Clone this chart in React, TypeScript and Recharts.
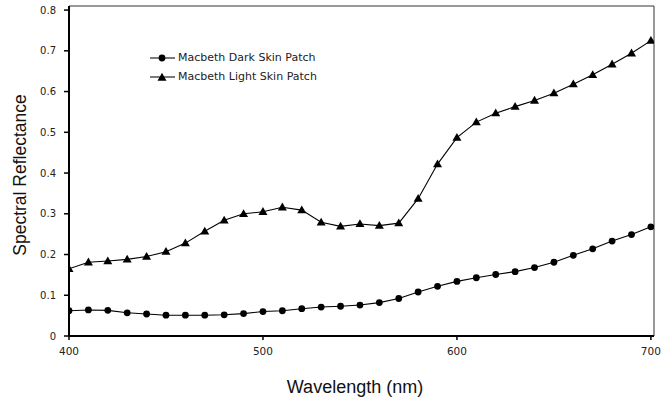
import React from 'react';
import {
  LineChart,
  Line,
  XAxis,
  YAxis,
  ReferenceLine,
  Legend,
} from 'recharts';

// Wavelengths (nm), 400..700 in 10 nm steps
const wavelengths = [
  400, 410, 420, 430, 440, 450, 460, 470, 480, 490, 500, 510, 520, 530, 540, 550,
  560, 570, 580, 590, 600, 610, 620, 630, 640, 650, 660, 670, 680, 690, 700,
];

// Macbeth dark skin patch reflectance
const darkSkin = [
  0.062, 0.064, 0.063, 0.057, 0.054, 0.051, 0.051, 0.051, 0.052, 0.055, 0.06, 0.062,
  0.067, 0.071, 0.073, 0.076, 0.082, 0.092, 0.108, 0.122, 0.134, 0.143, 0.151, 0.158,
  0.168, 0.181, 0.198, 0.214, 0.233, 0.249, 0.268,
];

// Macbeth light skin patch reflectance
const lightSkin = [
  0.165, 0.181, 0.184, 0.188, 0.195, 0.207, 0.228, 0.257, 0.284, 0.3, 0.305, 0.316,
  0.309, 0.279, 0.269, 0.275, 0.271, 0.277, 0.337, 0.422, 0.487, 0.525, 0.547, 0.563,
  0.578, 0.596, 0.618, 0.641, 0.667, 0.694, 0.725,
];

const xTicks = [400, 500, 600, 700];
const yTicks = [0, 0.1, 0.2, 0.3, 0.4, 0.5, 0.6, 0.7, 0.8];

const X_MAX = 701.6;
const Y_MAX = 0.81;

const data = wavelengths.map((w, i) => ({
  wavelength: w,
  dark: darkSkin[i],
  light: lightSkin[i],
}));

const TICK_FONT = "'DejaVu Sans', Verdana, sans-serif";
const TITLE_FONT = "'Liberation Sans', Arial, sans-serif";

const triPath = (cx: number, cy: number, s: number) =>
  `M${cx},${cy - s * 0.62} L${cx + s * 0.6},${cy + s * 0.42} L${cx - s * 0.6},${cy + s * 0.42} Z`;

const CircleDot = (props: any) => {
  const { cx, cy, index } = props;
  if (cx == null || cy == null) return <g key={`c-${index}`} />;
  return <circle key={`c-${index}`} cx={cx} cy={cy} r={3.4} fill="#000" stroke="none" />;
};

const TriangleDot = (props: any) => {
  const { cx, cy, index } = props;
  if (cx == null || cy == null) return <g key={`t-${index}`} />;
  return <path key={`t-${index}`} d={triPath(cx, cy, 7.5)} fill="#000" stroke="none" />;
};

const legendItems = [
  { label: 'Macbeth Dark Skin Patch', shape: 'circle' },
  { label: 'Macbeth Light Skin Patch', shape: 'triangle' },
];

function LegendContent() {
  return (
    <div style={{ fontFamily: TICK_FONT, fontSize: 11, color: '#222', lineHeight: '19px' }}>
      {legendItems.map((item) => (
        <div key={item.label} style={{ display: 'flex', alignItems: 'center', height: 19 }}>
          <svg width={28} height={12} style={{ marginRight: 2 }}>
            <line x1={2} y1={6} x2={27} y2={6} stroke="#222" strokeWidth={1.2} />
            {item.shape === 'circle' ? (
              <circle cx={14} cy={6} r={3.4} fill="#000" />
            ) : (
              <path d={triPath(14, 6.5, 7.5)} fill="#000" />
            )}
          </svg>
          <span>{item.label}</span>
        </div>
      ))}
    </div>
  );
}

export default function App() {
  return (
    <div style={{ position: 'absolute', left: 0, top: 0, width: 665, height: 400, background: '#fff' }}>
      <LineChart
        width={665}
        height={400}
        data={data}
        margin={{ top: 6, right: 11, left: 0, bottom: 0 }}
      >
        <XAxis
          dataKey="wavelength"
          type="number"
          domain={[400, X_MAX]}
          ticks={xTicks}
          allowDataOverflow
          height={64}
          tickSize={4}
          tickMargin={8}
          axisLine={{ stroke: '#000', strokeWidth: 2 }}
          tickLine={{ stroke: '#000', strokeWidth: 1.5 }}
          tick={{ fontSize: 10.5, fill: '#222', fontFamily: TICK_FONT }}
          label={{
            content: () => (
              <text
                x={355}
                y={393}
                textAnchor="middle"
                fontSize={18}
                fontFamily={TITLE_FONT}
                fill="#111"
              >
                Wavelength (nm)
              </text>
            ),
          }}
        />
        <YAxis
          type="number"
          domain={[0, Y_MAX]}
          ticks={yTicks}
          allowDataOverflow
          width={69}
          tickSize={5}
          tickMargin={8}
          axisLine={{ stroke: '#000', strokeWidth: 2 }}
          tickLine={{ stroke: '#000', strokeWidth: 1.5 }}
          tick={{ fontSize: 10, fill: '#222', fontFamily: TICK_FONT }}
          tickFormatter={(v: number) => (v === 0 ? '0' : v.toFixed(1))}
          label={{
            content: () => (
              <text
                x={26}
                y={175}
                textAnchor="middle"
                fontSize={17.5}
                fontFamily={TITLE_FONT}
                fill="#111"
                transform="rotate(-90, 26, 175)"
              >
                Spectral Reflectance
              </text>
            ),
          }}
        />
        <ReferenceLine y={Y_MAX} stroke="#333" strokeWidth={1} />
        <ReferenceLine x={X_MAX} stroke="#333" strokeWidth={1} />
        <Legend
          layout="vertical"
          verticalAlign="middle"
          align="center"
          wrapperStyle={{ left: 148, top: 48, width: 220 }}
          content={() => <LegendContent />}
        />
        <Line
          dataKey="dark"
          name="Macbeth Dark Skin Patch"
          stroke="#000"
          strokeWidth={1.1}
          dot={CircleDot}
          activeDot={false}
          isAnimationActive={false}
        />
        <Line
          dataKey="light"
          name="Macbeth Light Skin Patch"
          stroke="#000"
          strokeWidth={1.1}
          dot={TriangleDot}
          activeDot={false}
          isAnimationActive={false}
        />
      </LineChart>
    </div>
  );
}
